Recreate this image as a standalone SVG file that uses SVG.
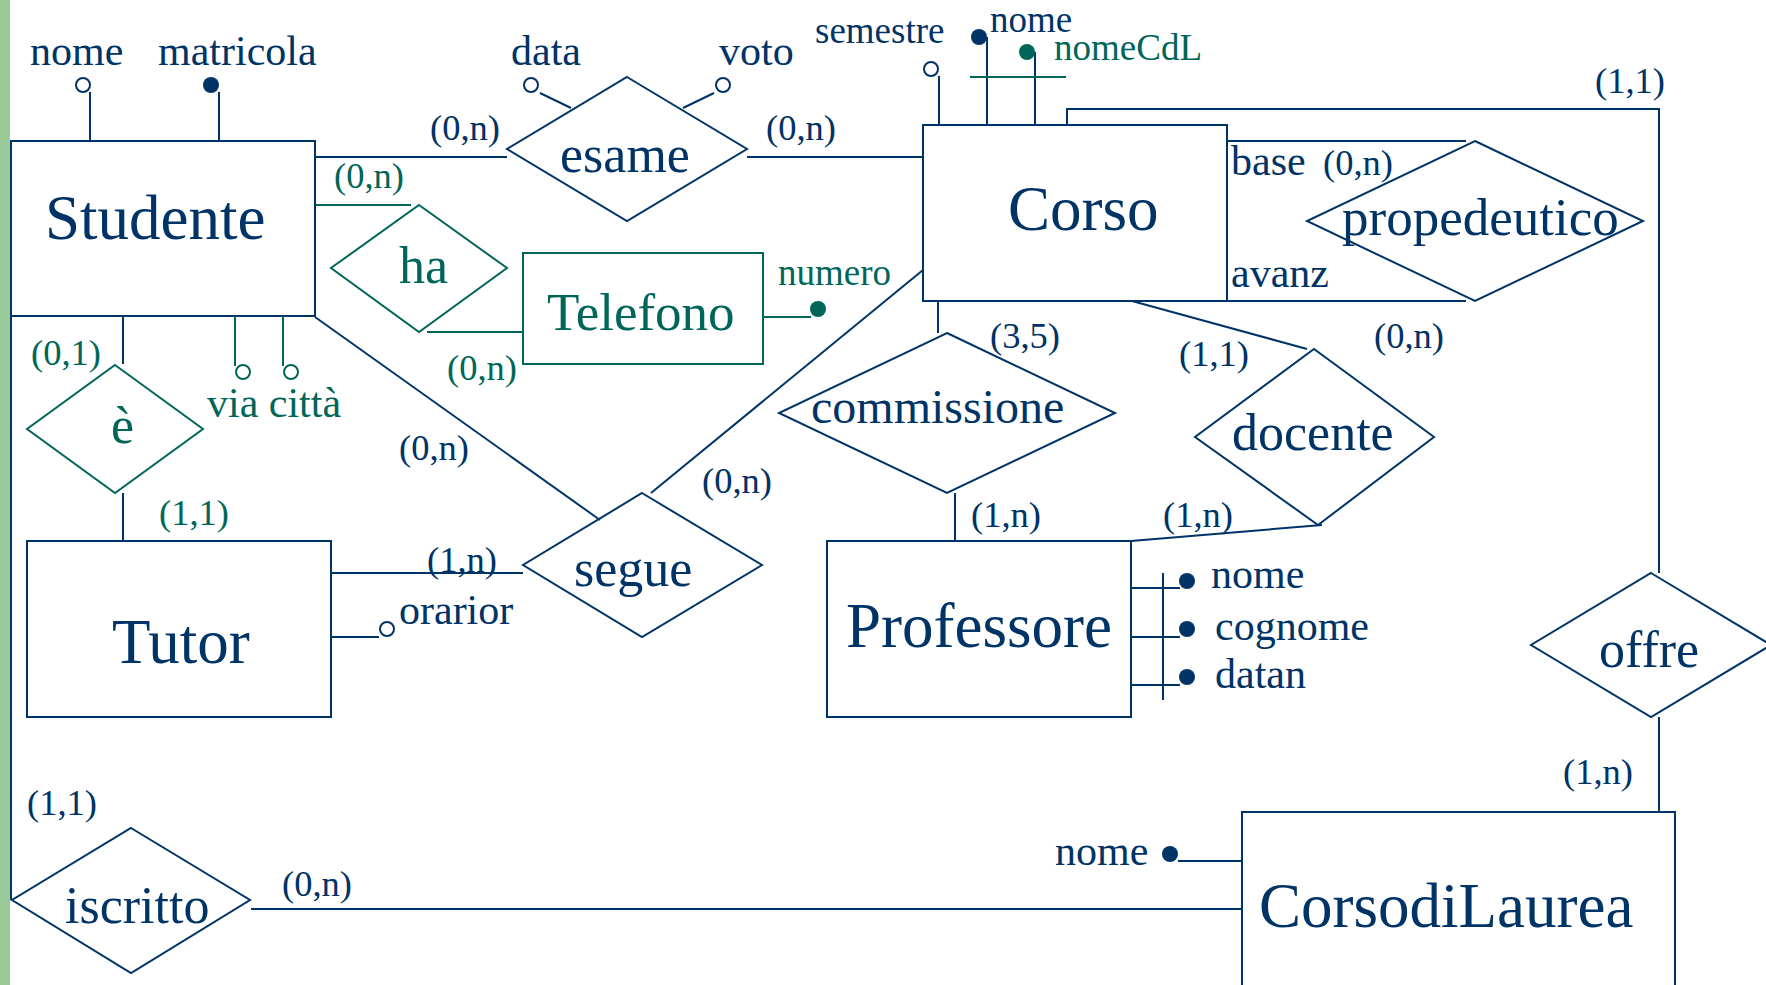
<svg xmlns="http://www.w3.org/2000/svg" width="1766" height="985" viewBox="0 0 1766 985">
<style>
.n{fill:none;stroke:#003366;stroke-width:2}
.g{fill:none;stroke:#006659;stroke-width:2}
.nf{fill:#003366;stroke:none}
.gf{fill:#006659;stroke:none}
.oc{fill:#fff;stroke:#003366;stroke-width:2}
.ogc{fill:#fff;stroke:#006659;stroke-width:2}
text{font-family:"Liberation Serif","Times New Roman",serif}
.tn{fill:#003366}
.tg{fill:#006659}
.ent{font-size:63px}
.rel{font-size:52px}
.att{font-size:42px}
.att2{font-size:37px}
.card{font-size:36.5px}
</style>
<rect x="0" y="0" width="1766" height="985" fill="#fff"/>
<rect x="0" y="0" width="10" height="985" fill="#99CC99"/>

<g id="connectors">
  <line class="n" x1="315" y1="157" x2="507" y2="157"/>
  <text class="tn card" x="430" y="140">(0,n)</text>
  <line class="n" x1="747" y1="157" x2="923" y2="157"/>
  <text class="tn card" x="766" y="140">(0,n)</text>
  <line class="g" x1="315" y1="205" x2="411" y2="205"/>
  <text class="tg card" x="334" y="188">(0,n)</text>
  <line class="g" x1="427" y1="332" x2="523" y2="332"/>
  <text class="tg card" x="447" y="380">(0,n)</text>
  <line class="n" x1="123" y1="316" x2="123" y2="364"/>
  <text class="tg card" x="31" y="365">(0,1)</text>
  <line class="n" x1="123" y1="493" x2="123" y2="541"/>
  <text class="tg card" x="159" y="525">(1,1)</text>
  <line class="n" x1="315" y1="317" x2="600" y2="520"/>
  <text class="tn card" x="399" y="460">(0,n)</text>
  <line class="n" x1="331" y1="573" x2="523" y2="573"/>
  <text class="tn card" x="427" y="572">(1,n)</text>
  <line class="n" x1="651" y1="493" x2="923" y2="270"/>
  <text class="tn card" x="702" y="493">(0,n)</text>
  <line class="n" x1="938" y1="301" x2="938" y2="333"/>
  <text class="tn card" x="990" y="348">(3,5)</text>
  <line class="n" x1="955" y1="493" x2="955" y2="541"/>
  <text class="tn card" x="971" y="527">(1,n)</text>
  <line class="n" x1="1132" y1="301" x2="1307" y2="349"/>
  <text class="tn card" x="1179" y="366">(1,1)</text>
  <line class="n" x1="1131" y1="541" x2="1322" y2="525"/>
  <text class="tn card" x="1163" y="527">(1,n)</text>
  <line class="n" x1="1227" y1="141" x2="1466" y2="141"/>
  <line class="n" x1="1227" y1="301" x2="1466" y2="301"/>
  <text class="tn att" x="1231" y="175">base</text>
  <text class="tn card" x="1323" y="175">(0,n)</text>
  <text class="tn att" x="1231" y="287">avanz</text>
  <text class="tn card" x="1374" y="348">(0,n)</text>
  <polyline class="n" points="1067,125 1067,109 1659,109 1659,573"/>
  <text class="tn card" x="1595" y="93">(1,1)</text>
  <line class="n" x1="1659" y1="717" x2="1659" y2="812"/>
  <text class="tn card" x="1563" y="784">(1,n)</text>
  <line class="n" x1="11" y1="316" x2="11" y2="900"/>
  <text class="tn card" x="27" y="815">(1,1)</text>
  <line class="n" x1="251" y1="909" x2="1242" y2="909"/>
  <text class="tn card" x="282" y="896">(0,n)</text>
</g>

<g id="Studente">
  <rect class="n" x="11" y="141" width="304" height="175"/>
  <text class="tn ent" x="45" y="239">Studente</text>
  <line class="n" x1="90" y1="92" x2="90" y2="141"/>
  <circle class="oc" cx="83" cy="85" r="7"/>
  <text class="tn att" x="30" y="65">nome</text>
  <line class="n" x1="219" y1="92" x2="219" y2="141"/>
  <circle class="nf" cx="211" cy="85" r="8"/>
  <text class="tn att" x="158" y="65">matricola</text>
  <line class="g" x1="235" y1="316" x2="235" y2="366"/>
  <circle class="ogc" cx="243" cy="372" r="7"/>
  <line class="g" x1="283" y1="316" x2="283" y2="366"/>
  <circle class="ogc" cx="291" cy="372" r="7"/>
  <text class="tg att" x="207" y="417">via città</text>
</g>

<g id="esame">
  <polygon class="n" points="627,77 747,149 627,221 507,149"/>
  <text class="tn rel" x="560" y="172">esame</text>
  <line class="n" x1="540" y1="93" x2="571" y2="108"/>
  <circle class="oc" cx="531" cy="85" r="7"/>
  <text class="tn att" x="511" y="65">data</text>
  <line class="n" x1="714" y1="93" x2="683" y2="108"/>
  <circle class="oc" cx="723" cy="85" r="7"/>
  <text class="tn att" x="719" y="65">voto</text>
</g>

<g id="ha">
  <polygon class="g" points="419,205 507,268 419,332 331,268"/>
  <text class="tg rel" x="399" y="283">ha</text>
</g>

<g id="Telefono">
  <rect class="g" x="523" y="253" width="240" height="111"/>
  <text class="tg" style="font-size:53px" x="547" y="330">Telefono</text>
  <line class="g" x1="763" y1="317" x2="811" y2="317"/>
  <circle class="gf" cx="818" cy="309" r="8"/>
  <text class="tg att2" x="778" y="285">numero</text>
</g>

<g id="Corso">
  <rect class="n" x="923" y="125" width="304" height="176"/>
  <text class="tn ent" x="1008" y="230">Corso</text>
  <line class="n" x1="939" y1="76" x2="939" y2="125"/>
  <circle class="oc" cx="931" cy="69" r="7"/>
  <text class="tn att2" x="815" y="43">semestre</text>
  <line class="n" x1="987" y1="37" x2="987" y2="125"/>
  <circle class="nf" cx="979" cy="37" r="8"/>
  <text class="tn att2" x="990" y="32">nome</text>
  <line class="n" x1="1035" y1="52" x2="1035" y2="125"/>
  <circle class="gf" cx="1027" cy="52" r="8"/>
  <text class="tg att2" x="1054" y="60">nomeCdL</text>
  <line class="g" x1="970" y1="77" x2="1066" y2="77"/>
</g>

<g id="propedeutico">
  <polygon class="n" points="1475,141 1643,221 1475,301 1307,221"/>
  <text class="tn" style="font-size:53px" x="1342" y="235">propedeutico</text>
</g>

<g id="e">
  <polygon class="g" points="115,365 203,429 115,493 27,429"/>
  <text class="tg rel" x="111" y="443">è</text>
</g>

<g id="Tutor">
  <rect class="n" x="27" y="541" width="304" height="176"/>
  <text class="tn ent" x="112" y="663">Tutor</text>
  <line class="n" x1="331" y1="637" x2="379" y2="637"/>
  <circle class="oc" cx="387" cy="629" r="7"/>
  <text class="tn att" x="399" y="624">orarior</text>
</g>

<g id="segue">
  <polygon class="n" points="642,493 762,565 642,637 523,565"/>
  <text class="tn rel" x="574" y="586">segue</text>
</g>

<g id="commissione">
  <polygon class="n" points="947,333 1115,413 947,493 779,413"/>
  <text class="tn" style="font-size:48px" x="811" y="423">commissione</text>
</g>

<g id="docente">
  <polygon class="n" points="1314,349 1434,437 1318,525 1195,437"/>
  <text class="tn rel" x="1232" y="450">docente</text>
</g>

<g id="Professore">
  <rect class="n" x="827" y="541" width="304" height="176"/>
  <text class="tn ent" x="846" y="647">Professore</text>
  <line class="n" x1="1131" y1="588" x2="1180" y2="588"/>
  <line class="n" x1="1131" y1="637" x2="1180" y2="637"/>
  <line class="n" x1="1131" y1="685" x2="1180" y2="685"/>
  <line class="n" x1="1163" y1="573" x2="1163" y2="700"/>
  <circle class="nf" cx="1187" cy="581" r="8"/>
  <circle class="nf" cx="1187" cy="629" r="8"/>
  <circle class="nf" cx="1187" cy="677" r="8"/>
  <text class="tn att" x="1211" y="588">nome</text>
  <text class="tn att" x="1215" y="640">cognome</text>
  <text class="tn att" x="1215" y="688">datan</text>
</g>

<g id="offre">
  <polygon class="n" points="1651,573 1771,645 1651,717 1531,645"/>
  <text class="tn rel" x="1599" y="667">offre</text>
</g>

<g id="CorsodiLaurea">
  <rect class="n" x="1242" y="812" width="433" height="200"/>
  <text class="tn ent" x="1259" y="927">CorsodiLaurea</text>
  <line class="n" x1="1178" y1="861" x2="1242" y2="861"/>
  <circle class="nf" cx="1170" cy="854" r="8"/>
  <text class="tn att" x="1055" y="865">nome</text>
</g>

<g id="iscritto">
  <polygon class="n" points="131,828 250,900 131,973 12,900"/>
  <text class="tn rel" x="65" y="923">iscritto</text>
</g>
</svg>
